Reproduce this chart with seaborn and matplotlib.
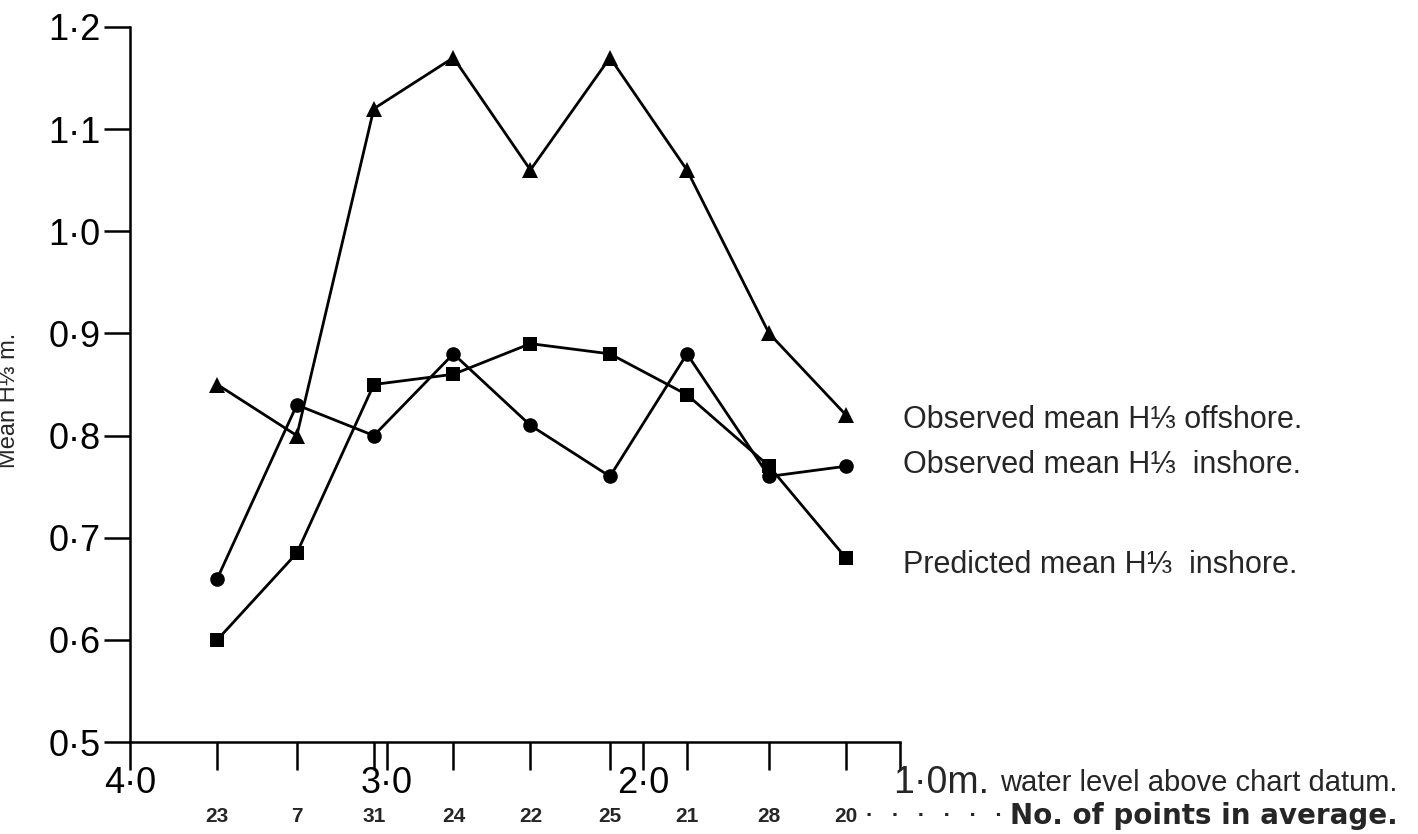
import matplotlib
matplotlib.use("Agg")
import matplotlib.pyplot as plt
import pandas as pd
import seaborn as sns

# ---------------- data ----------------
water_level = [3.66, 3.35, 3.05, 2.74, 2.44, 2.13, 1.83, 1.51, 1.21]
n_points = [23, 7, 31, 24, 22, 25, 21, 28, 20]
offshore_obs = [0.85, 0.80, 1.12, 1.17, 1.06, 1.17, 1.06, 0.90, 0.82]
inshore_obs = [0.66, 0.83, 0.80, 0.88, 0.81, 0.76, 0.88, 0.76, 0.77]
inshore_pred = [0.60, 0.685, 0.85, 0.86, 0.89, 0.88, 0.84, 0.77, 0.68]
series_labels = ["Observed mean H⅓ offshore.",
                 "Observed mean H⅓  inshore.",
                 "Predicted mean H⅓  inshore."]
x_major = [4.0, 3.0, 2.0, 1.0]
x_major_labels = ["4·0", "3·0", "2·0", ""]
y_ticks = [0.5, 0.6, 0.7, 0.8, 0.9, 1.0, 1.1, 1.2]
y_tick_labels = ["0·5", "0·6", "0·7", "0·8", "0·9", "1·0", "1·1", "1·2"]

# ---------------- style ----------------
sns.set_style("ticks")
plt.rcParams["font.family"] = ["Liberation Sans", "DejaVu Sans"]

W, H = 1418, 834
fig = plt.figure(figsize=(W / 100, H / 100), dpi=100)
L, R, B, T = 130, 900, 742, 27
ax = fig.add_axes([L / W, (H - B) / H, (R - L) / W, (B - T) / H])


def ax_x(px):
    return (px - L) / (R - L)


def ax_y(py):
    return (B - py) / (B - T)


df = pd.DataFrame({"level": water_level, "off": offshore_obs,
                   "ins": inshore_obs, "pred": inshore_pred})

lw = 2.0
sns.lineplot(data=df, x="level", y="off", ax=ax, color="black", lw=lw,
             marker="^", markersize=11, markeredgewidth=0, clip_on=False)
sns.lineplot(data=df, x="level", y="ins", ax=ax, color="black", lw=lw,
             marker="o", markersize=10.5, markeredgewidth=0, clip_on=False)
sns.lineplot(data=df, x="level", y="pred", ax=ax, color="black", lw=lw,
             marker="s", markersize=10, markeredgewidth=0, clip_on=False)

ax.set_xlim(4.0, 1.0)
ax.set_ylim(0.5, 1.2)

for s in ["top", "right"]:
    ax.spines[s].set_visible(False)
for s in ["left", "bottom"]:
    ax.spines[s].set_linewidth(1.8)
    ax.spines[s].set_color("black")

ax.set_yticks(y_ticks, y_tick_labels)
ax.set_xticks(x_major, x_major_labels)
ax.set_xticks(water_level, minor=True)
ax.tick_params(axis="y", direction="out", length=19, width=1.8, pad=2,
               labelsize=26, colors="black")
ax.tick_params(axis="x", which="both", direction="out", length=20, width=1.8,
               pad=-3, labelsize=26, colors="black")

ax.set_xlabel("")
ax.set_ylabel("Mean H⅓ m.", fontsize=17)
ax.yaxis.set_label_coords(ax_x(20), ax_y(400))

# right-hand end of the x axis
ax.text(ax_x(893), ax_y(793), "1·0m.", fontsize=27, ha="left", va="baseline",
        transform=ax.transAxes, clip_on=False)
ax.text(ax_x(1000), ax_y(791), "water level above chart datum.", fontsize=21,
        ha="left", va="baseline", transform=ax.transAxes, clip_on=False)

# number of points row
for xv, n in zip(water_level, n_points):
    ax.text(xv, ax_y(816), str(n), fontsize=15, fontweight="bold",
            ha="center", va="center", transform=ax.get_xaxis_transform(),
            clip_on=False)
ax.text(ax_x(866), ax_y(816), "·   ·   ·   ·   ·   ·", fontsize=16,
        fontweight="bold", ha="left", va="center", transform=ax.transAxes,
        clip_on=False)
ax.text(ax_x(1010), ax_y(816), "No. of points in average.", fontsize=20,
        fontweight="bold", family=["DejaVu Sans"], ha="left", va="center",
        transform=ax.transAxes, clip_on=False)

# series labels
for lab, py in zip(series_labels, [420, 465, 565]):
    ax.text(ax_x(903), ax_y(py), lab, fontsize=22, ha="left", va="center",
            transform=ax.transAxes, clip_on=False)

fig.savefig("out.png", dpi=100)
